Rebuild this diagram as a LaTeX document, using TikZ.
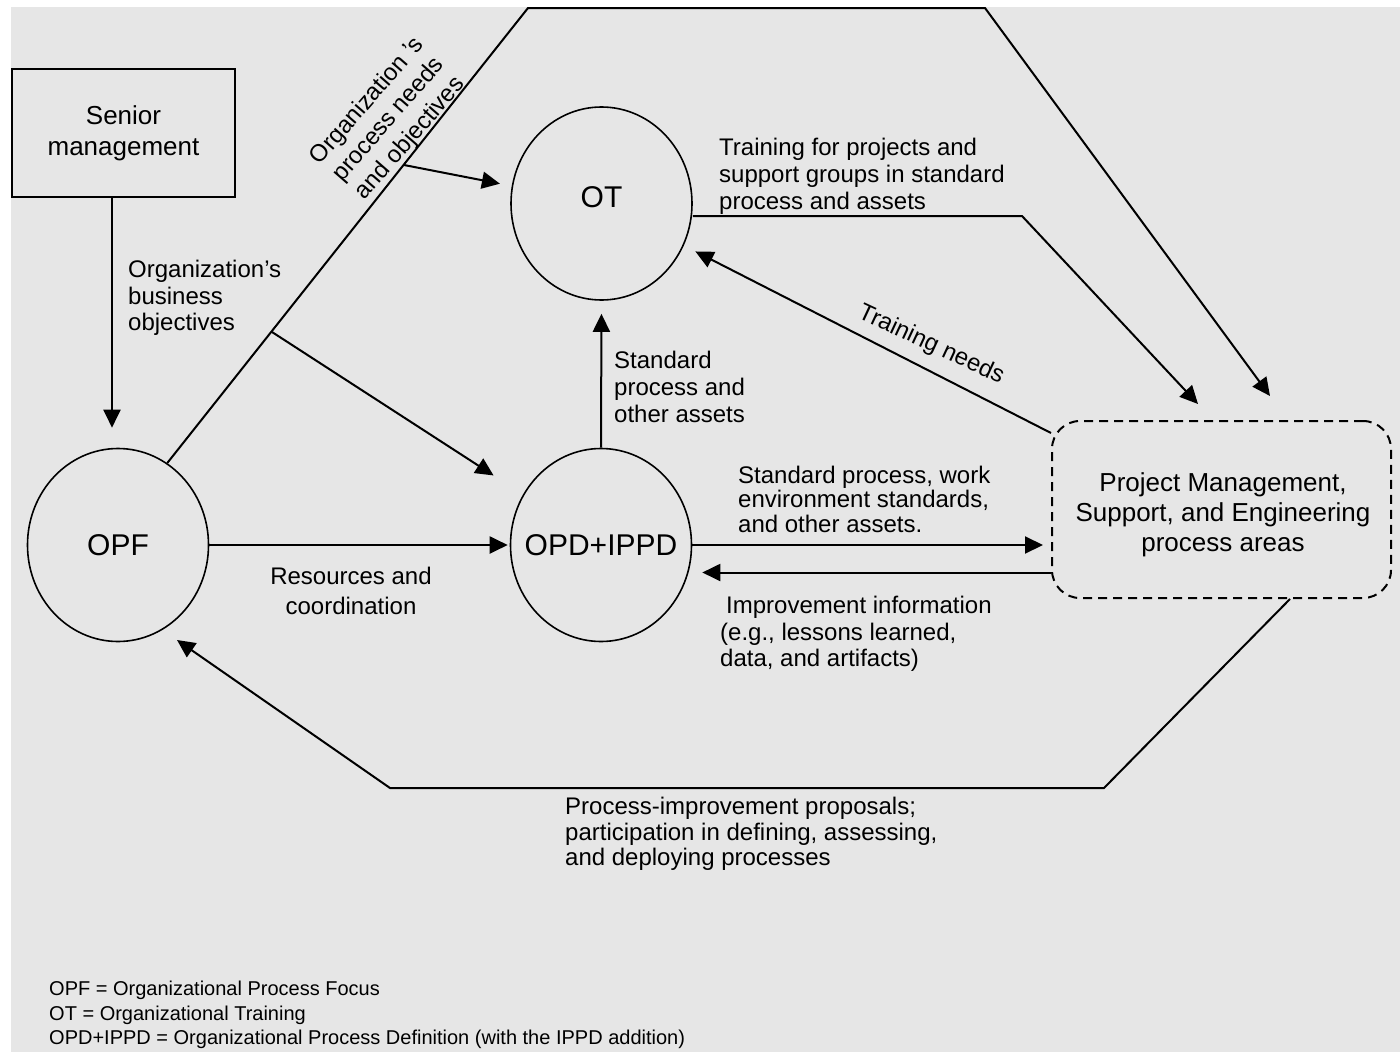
\documentclass[tikz,border=0pt]{standalone}
\usepackage{fontspec}
\setmainfont{Liberation Sans}
\usetikzlibrary{arrows.meta,shapes.geometric,calc}
\definecolor{bggrey}{RGB}{230,230,230}
\begin{document}
\begin{tikzpicture}[x=1pt,y=-1pt,
  lbl/.style={font=\fontsize{24pt}{27pt}\selectfont, inner sep=0pt, align=left},
  circ/.style={draw, ellipse, line width=1.6pt, minimum width=181pt, minimum height=193pt, inner sep=0pt, font=\fontsize{30pt}{36pt}\selectfont},
  arr/.style={line width=2pt, -{Triangle[length=18pt,width=17pt]}},
]
\useasboundingbox (0,0) rectangle (1400,1052);
\fill[white] (0,0) rectangle (1400,1052);
\fill[bggrey] (11,7) rectangle (1400,1052);

% nodes
\node[draw, line width=2pt, minimum width=223pt, minimum height=128pt, align=center,
      font=\fontsize{26pt}{31pt}\selectfont] (sm) at (123.5,133) {Senior\\management};
\node[circ] (opf) at (118,545) {\makebox[0pt]{OPF}};
\node[circ] (ot) at (601.5,203.5) {\makebox[0pt]{\smash{\raisebox{-3.5pt}{OT}}}};
\node[circ] (opd) at (601,545) {\makebox[0pt]{OPD+IPPD}};
\node[draw, dash pattern=on 9pt off 6pt, line width=2pt, rounded corners=28pt,
      minimum width=339pt, minimum height=177pt] (pa) at (1221.5,509.5) {};
\node[align=center, inner sep=0pt, font=\fontsize{26pt}{30pt}\selectfont] (patext)
      at ($(pa.center)+(1.5,5)$) {Project Management,\\Support, and Engineering\\process areas};

% connectors
\draw[arr] ([xshift=-11.5pt]sm.south) -- ([xshift=-6pt,yshift=20pt]opf.north);

\coordinate (tl) at (528,8);
\coordinate (tr) at (985,8);
\draw[arr] (opf.59) -- (tl) -- (tr) -- ([xshift=48.5pt,yshift=24pt]pa.north);

\coordinate (b1) at (404,165);
\draw[arr, shorten >=12pt] (b1) -- (ot);
\coordinate (b2) at (272,332);
\draw[arr, shorten >=35pt] (b2) -- (opd);

\draw[arr, shorten >=2pt] (opf.east) -- (opd.west);
\draw[arr, shorten >=13pt] (opd.north) -- (ot.south);
\draw[arr, shorten >=8pt] (opd.east) -- (opd.east -| pa.west);
\draw[arr, shorten >=10pt] ([yshift=-63pt]pa.west) -- ([yshift=-63pt]pa.west -| opd.east);

\coordinate (c2) at (1022,216);
\draw[arr] ([yshift=-12.5pt]ot.east) -- (c2) -- ([xshift=-23.5pt,yshift=16pt]pa.north);

\draw[arr, shorten >=13pt] ([yshift=-13pt]pa.north west) -- (ot);

\coordinate (d1) at (1104,788);
\coordinate (d2) at (390,788);
\draw[arr] ([xshift=68.5pt]pa.south) -- (d1) -- (d2) -- ([xshift=59pt,yshift=-95pt]opf.center);

% labels
\node[lbl, anchor=west, font=\fontsize{24pt}{26.5pt}\selectfont] (lbus) at (128,298)
  {Organization’s\\business\\objectives};
\node[lbl, align=center, rotate=49, font=\fontsize{24pt}{28.5pt}\selectfont] (lpn) at (389,120)
  {Organization ’s\\process needs\\and objectives};
\node[lbl, align=center, font=\fontsize{24pt}{30pt}\selectfont] (lres) at (351,590.5)
  {Resources and\\coordination};
\node[lbl, anchor=west] (lstd) at (614,387)
  {Standard\\process and\\other assets};
\node[lbl, anchor=west] (ltr) at (719,176)
  {Training for projects and\\support groups in standard\\process and assets};
\node[lbl, rotate=-25] (ltn) at (931,345) {Training needs};
\node[lbl, anchor=west, font=\fontsize{24pt}{24.5pt}\selectfont] (lspw) at (738,499)
  {Standard process, work\\environment standards,\\and other assets.};
\node[lbl, anchor=west, font=\fontsize{24pt}{26.5pt}\selectfont] (limp) at (720,634)
  {\hspace{6pt}Improvement information\\(e.g., lessons learned,\\data, and artifacts)};
\node[lbl, anchor=west, font=\fontsize{24pt}{25.5pt}\selectfont] (lpip) at (565,834)
  {Process-improvement proposals;\\participation in defining, assessing,\\and deploying processes};
\node[lbl, anchor=west, font=\fontsize{20pt}{24.5pt}\selectfont] (foot) at (49,1015)
  {OPF = Organizational Process Focus\\OT = Organizational Training\\OPD+IPPD = Organizational Process Definition (with the IPPD addition)};
\end{tikzpicture}
\end{document}
